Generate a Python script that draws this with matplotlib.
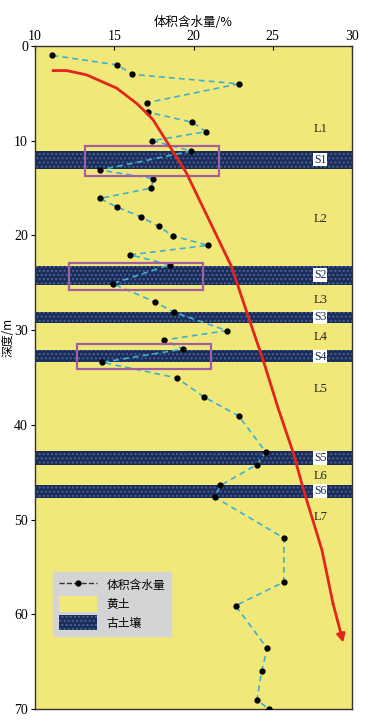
import matplotlib
matplotlib.use("Agg")
import matplotlib.pyplot as plt
from matplotlib.lines import Line2D
from matplotlib.patches import Patch, Rectangle

# water content profile (depth m, volumetric water content %)
depth = [1.0, 2.0, 3.0, 4.0, 6.0, 7.0, 8.05, 9.05, 10.0, 11.1, 13.1, 14.0, 15.0,
         16.1, 17.0, 18.05, 19.05, 20.05, 21.05, 22.05, 23.1, 25.1, 27.05, 28.1,
         30.05, 31.05, 32.0, 33.4, 35.05, 37.05, 39.05, 42.85, 44.2, 46.4, 47.65,
         51.95, 56.6, 59.1, 63.6, 66.0, 69.05, 70.0]
water = [11.1, 15.2, 16.15, 22.85, 17.05, 17.15, 19.9, 20.8, 17.4, 19.85, 14.1,
         17.45, 17.35, 14.1, 15.15, 16.7, 17.8, 18.7, 20.9, 16.0, 18.5, 14.9,
         17.6, 18.75, 22.1, 18.15, 19.35, 14.25, 18.95, 20.65, 22.85, 24.55,
         24.0, 21.7, 21.35, 25.7, 25.7, 22.65, 24.65, 24.3, 24.0, 24.75]

# paleosol layers (top, bottom) and labels
soil_top = [11.1, 23.2, 28.1, 32.1, 42.8, 46.4]
soil_bot = [13.0, 25.2, 29.2, 33.4, 44.2, 47.7]
soil_names = ["S1", "S2", "S3", "S4", "S5", "S6"]
soil_label_y = [12.0, 24.2, 28.65, 32.8, 43.5, 47.0]
loess_names = ["L1", "L2", "L3", "L4", "L5", "L6", "L7"]
loess_label_y = [8.8, 18.3, 26.8, 30.7, 36.2, 45.4, 49.7]

# highlighted boxes (x0, x1, y0, y1)
box_x0 = [13.15, 12.15, 12.65]
box_x1 = [21.6, 20.6, 21.1]
box_y0 = [10.6, 22.9, 31.5]
box_y1 = [13.7, 25.8, 34.1]

# red trend curve
trend_depth = [2.6, 2.6, 3.05, 4.45, 6.05, 7.1, 7.8, 10.6, 13.4, 23.3, 28.05,
               33.2, 38.3, 43.0, 46.9, 53.2, 58.85, 63.0]
trend_x = [11.15, 12.0, 13.25, 15.15, 16.4, 17.05, 17.45, 18.5, 19.55, 22.4,
           23.35, 24.4, 25.35, 26.3, 26.95, 28.1, 28.8, 29.45]

yellow = "#f1e87a"
navy = "#1a2d5a"
serif = "Liberation Serif"
cjk = ["Noto Sans CJK SC", "DejaVu Sans"]

fig = plt.figure(figsize=(3.75, 7.27), dpi=100)
ax = fig.add_axes([0.0933, 0.0248, 0.8454, 0.912])
ax.set_facecolor(yellow)

for t, b in zip(soil_top, soil_bot):
    ax.axhspan(t, b, facecolor=navy, edgecolor="#4a6192", hatch="....",
               linewidth=0, zorder=1)

ax.plot(water, depth, ls=(0, (3.5, 2.5)), color="#3fb0d0", lw=1.2, marker="o",
        ms=3.5, mfc="black", mec="black", zorder=4)

for x0, x1, y0, y1 in zip(box_x0, box_x1, box_y0, box_y1):
    ax.add_patch(Rectangle((x0, y0), x1 - x0, y1 - y0, fill=False,
                           edgecolor="#a45fa0", lw=1.6, zorder=5))

ax.plot(trend_x[:-1], trend_depth[:-1], color="#e3261b", lw=2, zorder=6)
ax.annotate("", xy=(trend_x[-1], trend_depth[-1]),
            xytext=(trend_x[-2], trend_depth[-2]),
            arrowprops=dict(arrowstyle="-|>", color="#e3261b", lw=2,
                            mutation_scale=12, shrinkA=0, shrinkB=0), zorder=6)

for name, y in zip(loess_names, loess_label_y):
    ax.text(28.0, y, name, ha="center", va="center", fontsize=9,
            family=serif, color="#222222", zorder=7)
for name, y in zip(soil_names, soil_label_y):
    ax.text(28.0, y, name, ha="center", va="center", fontsize=8.5,
            family=serif, color=navy, zorder=7,
            bbox=dict(facecolor="white", edgecolor="none", pad=0.6))

ax.set_xlim(10, 30)
ax.set_ylim(70, 0)
ax.xaxis.tick_top()
ax.xaxis.set_label_position("top")
ax.set_xticks([10, 15, 20, 25, 30])
ax.set_yticks([0, 10, 20, 30, 40, 50, 60, 70])
ax.tick_params(axis="x", direction="in", length=3, pad=2)
ax.tick_params(axis="y", direction="out", length=3, pad=2)
for lab in ax.get_xticklabels() + ax.get_yticklabels():
    lab.set_family(serif)
    lab.set_fontsize(10)
ax.set_xlabel("体积含水量/%", family=cjk, fontsize=9, labelpad=3)
ax.set_ylabel("深度/m", family=cjk, fontsize=8.5)
ax.yaxis.set_label_coords(-0.066, 0.56)
for s in ax.spines.values():
    s.set_color("#333333")
    s.set_linewidth(1)

handles = [
    Line2D([0], [0], ls="--", color="#333333", lw=1, marker="o", ms=3.5,
           mfc="black", mec="black"),
    Patch(facecolor=yellow, edgecolor="none"),
    Patch(facecolor=navy, edgecolor="#4a6192", hatch="....", lw=0),
]
leg = ax.legend(handles, ["体积含水量", "黄土", "古土壤"], loc="upper left",
                bbox_to_anchor=(0.057, 0.207), borderaxespad=0, frameon=True,
                fancybox=False, facecolor="#d4d4d4", edgecolor="#d4d4d4",
                framealpha=1, prop={"family": cjk, "size": 8.5},
                handlelength=3.2, handleheight=1.6, labelspacing=0.3,
                borderpad=0.5, handletextpad=0.8)
leg.set_zorder(8)

fig.savefig("out.png", dpi=100)
